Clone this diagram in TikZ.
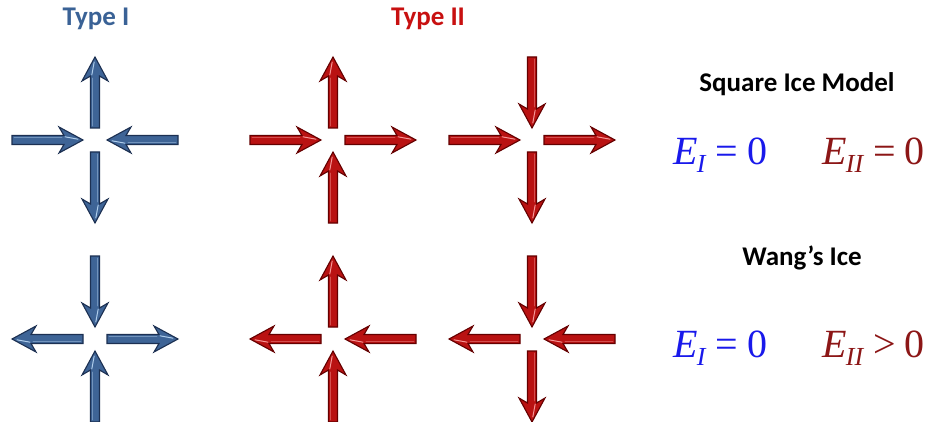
\documentclass[tikz,border=0pt]{standalone}
\usepackage{fontspec}
\setmainfont{Carlito}
\newfontfamily\tnr{Liberation Serif}
\usetikzlibrary{calc}
\definecolor{bluF}{RGB}{62,100,150}
\definecolor{bluD}{RGB}{28,48,82}
\definecolor{bluL}{RGB}{175,205,235}
\definecolor{redF}{RGB}{185,18,18}
\definecolor{redD}{RGB}{100,0,0}
\definecolor{redL}{RGB}{245,150,150}
\definecolor{typeone}{RGB}{58,98,150}
\definecolor{typetwo}{RGB}{200,16,16}
\definecolor{eblue}{RGB}{25,25,235}
\definecolor{ered}{RGB}{140,22,22}
\newcommand\myEq[2]{{\tnr\itshape E}\hspace{-1pt}\raisebox{-8pt}{\fontsize{26}{26}\selectfont\tnr\itshape #1}\hspace{10pt}{\tnr #2}\hspace{9pt}{\tnr 0}}
\newcommand\outarm[2]{\pic[rotate=#2] at ($(#1)+(#2:12)$) {blockarm};}
\newcommand\inarm[2]{\pic[rotate=#2+180] at ($(#1)+(#2:83)$) {blockarm};}
\tikzset{
  blockarm/.pic={
    \filldraw[fill=armF, draw=armD, line width=1.1pt, line join=miter]
      (0,-4.5) -- (52,-4.5) -- (47,-13) -- (71,0) -- (47,13) -- (52,4.5) -- (0,4.5) -- cycle;
    \draw[armL, line width=1pt, line cap=round] (53,3.2) -- (66,0.8);
    \draw[armL!45!armF, line width=0.8pt, line cap=round] (2,2.4) -- (50,2.4);
  },
  bluearm/.style={/utils/exec={\colorlet{armF}{bluF}\colorlet{armD}{bluD}\colorlet{armL}{bluL}}},
  redarm/.style={/utils/exec={\colorlet{armF}{redF}\colorlet{armD}{redD}\colorlet{armL}{redL}}},
  title/.style={anchor=base, font=\fontsize{27}{30}\selectfont\bfseries},
  eqn/.style={anchor=base west, font=\fontsize{40}{44}\selectfont},
}
\begin{document}
\begin{tikzpicture}[x=1pt,y=1pt]
\useasboundingbox[fill=white] (0,0) rectangle (931,421);
\coordinate (A) at (95,281);
\coordinate (B) at (333,281);
\coordinate (C) at (532,281);
\coordinate (D) at (95,82);
\coordinate (E) at (333,82);
\coordinate (F) at (532,82);
\begin{scope}[bluearm]
  \outarm{A}{90} \outarm{A}{270} \inarm{A}{180} \inarm{A}{0}
  \inarm{D}{90} \inarm{D}{270} \outarm{D}{180} \outarm{D}{0}
\end{scope}
\begin{scope}[redarm]
  \outarm{B}{90} \outarm{B}{0} \inarm{B}{180} \inarm{B}{270}
  \inarm{C}{90} \outarm{C}{270} \inarm{C}{180} \outarm{C}{0}
  \outarm{E}{90} \outarm{E}{180} \inarm{E}{0} \inarm{E}{270}
  \inarm{F}{90} \outarm{F}{270} \outarm{F}{180} \inarm{F}{0}
\end{scope}
\node[title, text=typeone] (t1) at (96,395) {Type I};
\node[title, text=typetwo] (t2) at (428,395) {Type II};
\node[title, text=black] (sq) at (797,329) {Square Ice Model};
\node[title, text=black] (wg) at (802,156) {Wang’s Ice};
\node[eqn, text=eblue] (e1) at (670,256) {\myEq{I}{=}};
\node[eqn, text=ered] (e2) at (819,256) {\myEq{II}{=}};
\node[eqn, text=eblue] (e3) at (670,64) {\myEq{I}{=}};
\node[eqn, text=ered] (e4) at (819,64) {\myEq{II}{>}};
\end{tikzpicture}
\end{document}
